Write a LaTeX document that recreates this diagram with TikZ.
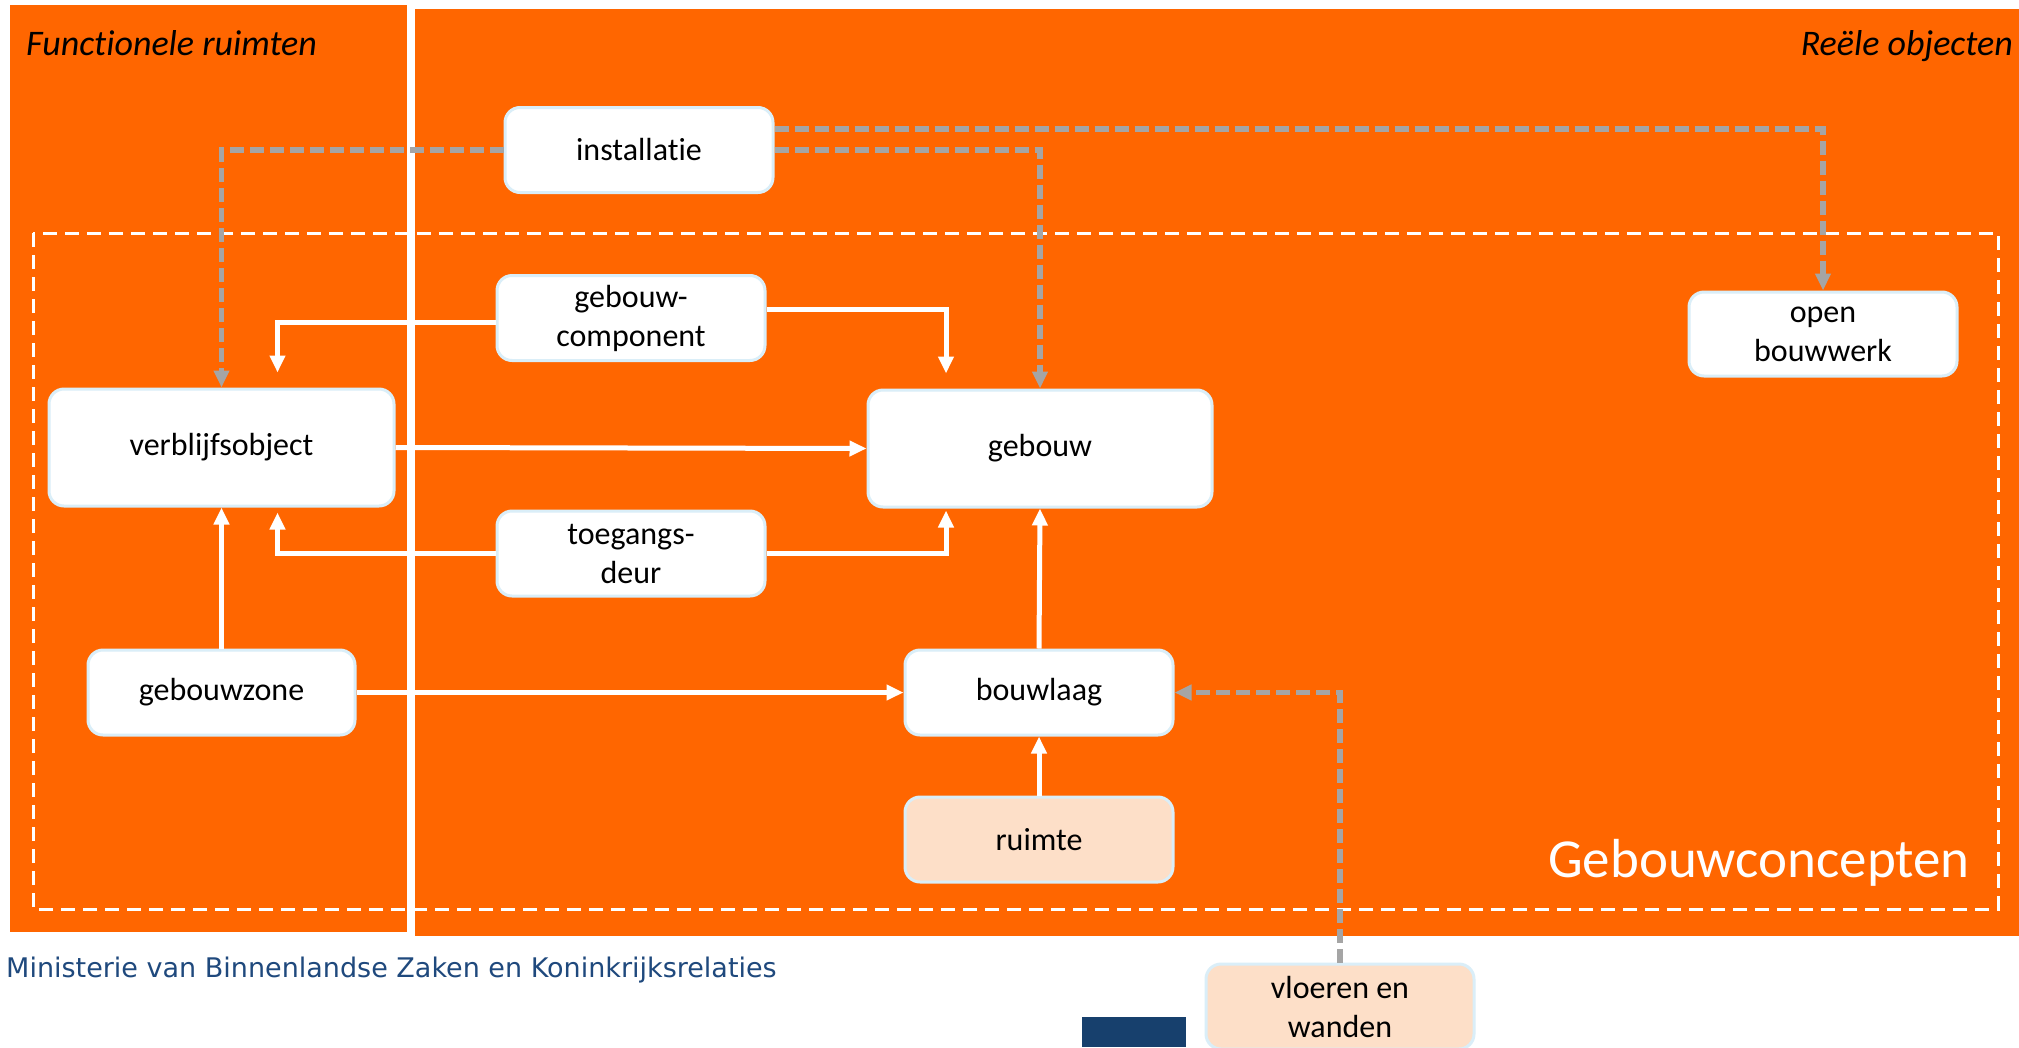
\documentclass[tikz,border=0pt]{standalone}
\usepackage{fontspec}
\setmainfont[Ligatures={NoCommon}]{Carlito}
\newfontfamily\verdanalike{DejaVu Sans}
\usetikzlibrary{arrows.meta,positioning}
\definecolor{orangebg}{RGB}{255,102,0}
\definecolor{boxborder}{RGB}{218,238,248}
\definecolor{peach}{RGB}{253,223,200}
\definecolor{grayline}{RGB}{165,165,165}
\definecolor{minblue}{RGB}{31,73,125}
\definecolor{darkblock}{RGB}{23,64,109}
\tikzset{
  conceptbox/.style={draw=boxborder, line width=3pt, fill=white, rounded corners=15pt,
    minimum width=268pt, minimum height=85pt, align=center, inner sep=2pt,
    font=\fontsize{32}{39}\selectfont, text=black},
  bigbox/.style={conceptbox, minimum width=345pt, minimum height=117pt},
  peachbox/.style={conceptbox, fill=peach},
  wline/.style={draw=white, line width=5pt, -{Triangle[length=17pt,width=15pt]}},
  gline/.style={draw=grayline, line width=5.5pt, dash pattern=on 14pt off 6pt,
    -{Triangle[length=17pt,width=15pt]}},
}
\begin{document}
\begin{tikzpicture}[x=1pt,y=-1pt]
\useasboundingbox (0,0) rectangle (2019,1047);
\fill[white] (0,0) rectangle (2019,1047);
% background panels
\fill[orangebg] (10,5) rectangle (407,932);
\fill[orangebg] (415,9) rectangle (2019,936);
\draw[white, line width=3pt, dash pattern=on 14pt off 8pt] (33,233) rectangle (1998,909);
% titles
\node[anchor=base west, inner sep=0pt, font=\fontsize{36}{42}\selectfont\itshape] (tfunc) at (26,55) {Functionele ruimten};
\node[anchor=base east, inner sep=0pt, font=\fontsize{36}{42}\selectfont\itshape] (treel) at (2013,55) {Reële objecten};
\node[anchor=base east, inner sep=0pt, text=white, font=\fontsize{55}{60}\selectfont] (tconc) at (1970,877) {Gebouwconcepten};
\node[anchor=base west, inner sep=0pt, text=minblue, font=\verdanalike\fontsize{27}{32}\selectfont] (tmin) at (6,977) {Ministerie van Binnenlandse Zaken en Koninkrijksrelaties};
\fill[darkblock] (1082,1017) rectangle (1186,1047);
% nodes
\node[conceptbox] (inst) at (639,150) {installatie};
\node[conceptbox] (gebcomp) at (631,318) {gebouw-\\component};
\node[conceptbox, minimum height=84pt] (openbw) at (1823,334) {open\\bouwwerk};
\node[bigbox] (verblijf) at (221.5,447.5) {verblijfsobject};
\node[bigbox, minimum width=344pt] (gebouw) at (1040,448.5) {gebouw};
\node[conceptbox] (toeg) at (631,553.5) {toegangs-\\deur};
\node[conceptbox, minimum width=267pt] (gebzone) at (221.5,692.5) {gebouwzone};
\node[conceptbox] (bouwlaag) at (1039,692.5) {bouwlaag};
\node[peachbox] (ruimte) at (1039,839.5) {ruimte};
\node[peachbox] (vloeren) at (1340,1006.5) {vloeren en\\wanden};
% gray dashed connectors
\draw[gline] (inst.west) -| (verblijf.north);
\draw[gline] (inst.east) -| (gebouw.north);
\draw[gline] ([yshift=21pt]inst.east) -| (openbw.north);
\draw[gline] (vloeren.north) |- (bouwlaag.east);
% white connectors
\draw[wline, shorten >=15pt] ([yshift=-4pt]gebcomp.west) -| ([xshift=56pt]verblijf.north);
\draw[wline, shorten >=15pt] ([yshift=9pt]gebcomp.east) -| ([xshift=-94pt]gebouw.north);
\draw[wline] (verblijf.east) -- (gebouw.west);
\draw[wline, shorten >=5pt] (toeg.west) -| ([xshift=56pt]verblijf.south);
\draw[wline, shorten >=2pt] (toeg.east) -| ([xshift=-94pt]gebouw.south);
\draw[wline] (gebzone.north) -- (verblijf.south);
\draw[wline] (gebzone.east) -- (bouwlaag.west);
\draw[wline] (bouwlaag.north) -- (gebouw.south);
\draw[wline] (ruimte.north) -- (bouwlaag.south);
\end{tikzpicture}
\end{document}
